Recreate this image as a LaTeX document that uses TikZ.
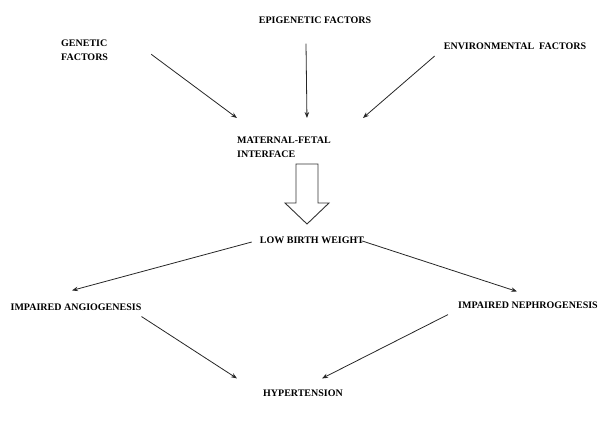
\documentclass[tikz,border=0pt]{standalone}
\usepackage{fontspec}
\setmainfont{Liberation Serif}
\usetikzlibrary{arrows.meta}

\begin{document}
\begin{tikzpicture}[
x=1pt,y=-1pt,
>={Stealth[length=6pt,width=4.5pt]},
every node/.style={inner sep=0pt,font=\fontsize{10}{13.5}\selectfont\bfseries},
link/.style={draw,->,line width=0.8pt,black!85}
]
\useasboundingbox (0,0) rectangle (598,426);

%\node (title) at (300,0) {};
\node (epi) at (315,20) {EPIGENETIC FACTORS};
\node[align=left,anchor=north west] (gen) at (61,40) {GENETIC\\FACTORS};
\node (env) at (515,46) {ENVIRONMENTAL\ \ FACTORS};
	\node[align=left,anchor=north west] (mfi) at (237,137) {MATERNAL-FETAL\\INTERFACE};
	\node (lbw) at (312,240) {LOW BIRTH WEIGHT};
		\node (ang) at (76,307) {IMPAIRED ANGIOGENESIS};
		\node (nep) at (528,305) {IMPAIRED NEPHROGENESIS};
			\node (hyp) at (303,393) {HYPERTENSION};

\path[link] ([shift={(43,4)}]gen.east) -- ([shift={(-47,-19)}]mfi.north);
\path[link] ([shift={(-9,20)}]epi.south) -- ([shift={(23,-19)}]mfi.north);
\path[link] ([shift={(-9,10)}]env.west) -- ([shift={(79,-19)}]mfi.north);

% hollow block arrow
\draw[line width=0.9pt,black!80] (296,164) -- (318,164) -- (318,203) -- (329,203)
	-- (307,224) -- (285,203) -- (296,203) -- cycle;

\path[link] ([shift={(-8,2)}]lbw.west) -- ([shift={(-4,-13)}]ang.north);
\path[link] ([shift={(-2,1)}]lbw.east) -- ([shift={(-11,-10)}]nep.north);
	\path[link] ([shift={(0,6)}]ang.south east) -- ([shift={(-66,-11)}]hyp.north);
	\path[link] ([shift={(-10,6)}]nep.south west) -- ([shift={(19,-11)}]hyp.north);

\end{tikzpicture}
\end{document}
